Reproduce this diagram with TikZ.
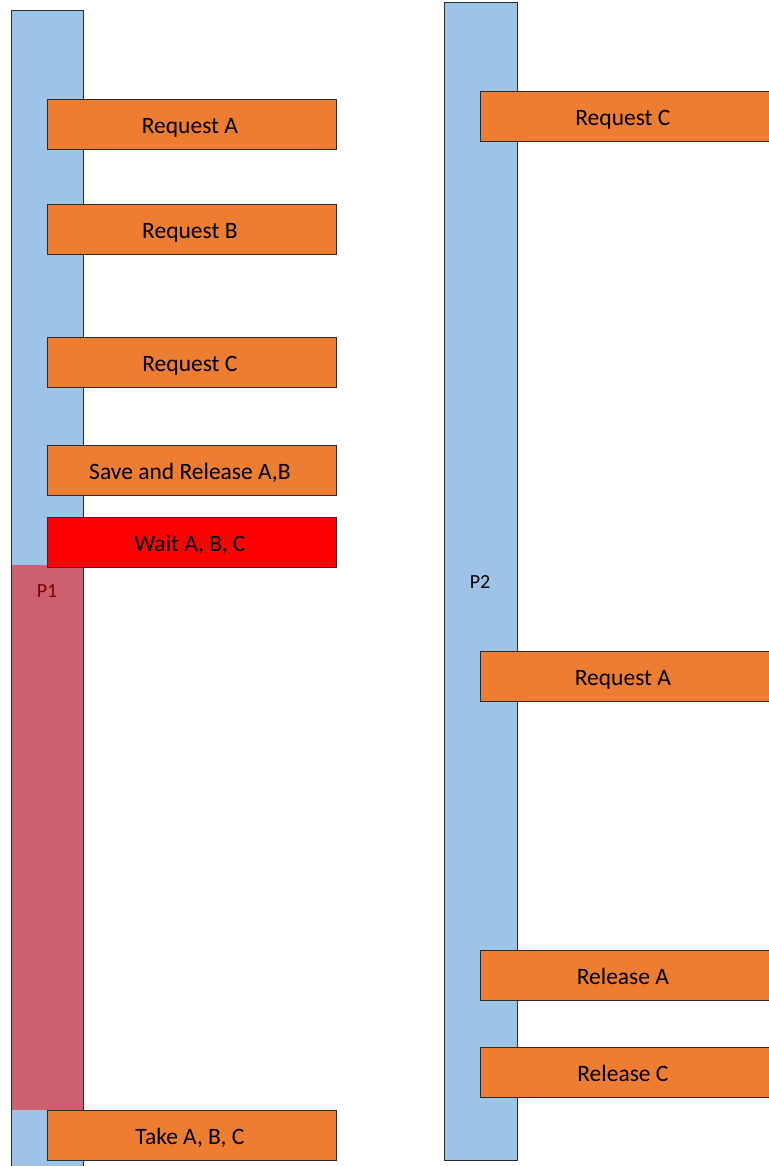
\documentclass[tikz,border=0pt]{standalone}
\usepackage{fontspec}
\setmainfont{Carlito}
\definecolor{barblue}{HTML}{9DC3E6}
\definecolor{stepor}{HTML}{ED7D31}
\definecolor{waitred}{HTML}{FF0000}
\definecolor{blocked}{HTML}{CC6070}
\definecolor{plabel}{HTML}{800000}
\definecolor{edge}{HTML}{2A2A2A}
\begin{document}
\begin{tikzpicture}[x=1bp,y=-1bp,
  stepbox/.style={draw=edge, line width=0.8bp, fill=stepor, anchor=north west,
    minimum width=289bp, minimum height=50bp, inner sep=0pt,
    text height=18bp, text depth=0pt,
    font=\fontsize{23.5bp}{26bp}\selectfont, text=black,
    execute at end node={\hspace*{4bp}}},
  waitbox/.style={stepbox, fill=waitred},
  lane/.style={draw=edge, line width=0.8bp, fill=barblue}]
\useasboundingbox (0,0) rectangle (769,1166);
% process timelines
\fill[barblue] (11,10) rectangle (83,1170);
\fill[blocked] (11,565) rectangle (83,1110);
\draw[edge, line width=0.8bp] (11,1170) -- (11,10) -- (83,10) -- (83,1170);
\draw[lane] (444,2) rectangle (517,1160);
% labels of the processes
\node[text=plabel, font=\fontsize{20bp}{23bp}\selectfont] (p1) at (47,591) {P1};
\node[text=black, font=\fontsize{20bp}{23bp}\selectfont] (p2) at (480,582) {P2};
% steps of P1
\node[stepbox] (a1) at (47,99) {Request A};
\node[stepbox] (a2) at (47,204) {Request B};
\node[stepbox] (a3) at (47,337) {Request C};
\node[stepbox] (a4) at (47,445) {Save and Release A,B};
\node[waitbox] (a5) at (47,517) {Wait A, B, C};
\node[stepbox] (a6) at (47,1110) {Take A, B, C};
% steps of P2
\node[stepbox] (b1) at (480,91) {Request C};
\node[stepbox] (b2) at (480,651) {Request A};
\node[stepbox] (b3) at (480,950) {Release A};
\node[stepbox] (b4) at (480,1047) {Release C};
\end{tikzpicture}
\end{document}
